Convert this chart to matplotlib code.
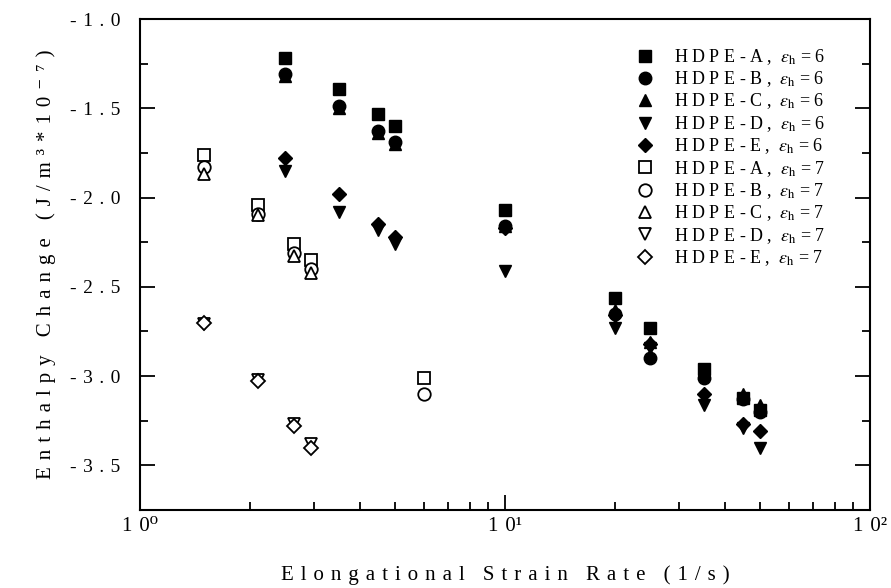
import matplotlib
matplotlib.use("Agg")
import matplotlib.pyplot as plt
from matplotlib.ticker import FixedLocator, NullFormatter, LogLocator

plt.rcParams['font.family'] = ['Liberation Serif', 'DejaVu Serif']
plt.rcParams['mathtext.fontset'] = 'stix'

# eps_h = 6 series (filled)
x6 = [2.5, 3.5, 4.5, 5.0, 10, 20, 25, 35, 45, 50]
A6 = [-1.22, -1.39, -1.53, -1.60, -2.07, -2.56, -2.73, -2.96, -3.12, -3.19]
B6 = [-1.31, -1.49, -1.63, -1.69, -2.16, -2.65, -2.90, -3.01, -3.13, -3.20]
C6 = [-1.32, -1.50, -1.64, -1.70, -2.16, -2.63, -2.81, -2.98, -3.10, -3.16]
D6 = [-1.85, -2.08, -2.18, -2.26, -2.41, -2.73, -2.84, -3.16, -3.29, -3.40]
E6 = [-1.78, -1.98, -2.15, -2.22, -2.17, -2.66, -2.82, -3.10, -3.27, -3.31]

# eps_h = 7 series (open)
x7 = [1.5, 2.1, 2.65, 2.95]
xA7 = [1.5, 2.1, 2.65, 2.95, 6.0]
A7 = [-1.76, -2.04, -2.26, -2.35, -3.01]
B7 = [-1.83, -2.09, -2.31, -2.40, -3.10]
C7 = [-1.87, -2.10, -2.33, -2.42]
D7 = [-2.71, -3.02, -3.27, -3.38]
E7 = [-2.70, -3.03, -3.28, -3.40]

labels = ['A', 'B', 'C', 'D', 'E']
markers = ['s', 'o', '^', 'v', 'D']
msizes = [8.5, 9, 9, 9, 7.5]

SP = '\u2004'
WG = SP * 2 + '\u2009'
def spaced(s):
    return WG.join(SP.join(w) for w in s.split(' '))

ytick_vals = [-1.0, -1.5, -2.0, -2.5, -3.0, -3.5]
ytick_labels = [spaced('%.1f' % v) for v in ytick_vals]
xtick_vals = [1, 10, 100]
xtick_labels = ['1' + SP + '0\u2070', '1' + SP + '0\u00b9', '1' + SP + '0\u00b2']

fig = plt.figure(figsize=(8.91, 5.88), dpi=100)
ax = fig.add_axes([140/891, 1-510/588, 730/891, 491/588])

def lab(letter, eps):
    return 'H D P E - %s ,  $\\varepsilon_{\\rm h}$ = %d' % (letter, eps)

series6 = [A6, B6, C6, D6, E6]
for i, ys in enumerate(series6):
    ax.plot(x6, ys, linestyle='none', marker=markers[i], ms=msizes[i],
            mfc='black', mec='black', label=lab(labels[i], 6))

series7 = [(xA7, A7), (xA7, B7), (x7, C7), (x7, D7), (x7, E7)]
for i, (xs, ys) in enumerate(series7):
    ax.plot(xs, ys, linestyle='none', marker=markers[i], ms=msizes[i],
            mfc='white', mec='black', mew=1.3, label=lab(labels[i], 7))

ax.set_xscale('log')
ax.set_xlim(1, 100)
ax.set_ylim(-3.75, -1.0)

ax.xaxis.set_major_locator(FixedLocator(xtick_vals))
ax.set_xticklabels(xtick_labels)
ax.xaxis.set_minor_locator(LogLocator(base=10, subs=range(2, 10)))
ax.xaxis.set_minor_formatter(NullFormatter())

ax.yaxis.set_major_locator(FixedLocator(ytick_vals))
ax.set_yticklabels(ytick_labels)
ax.yaxis.set_minor_locator(FixedLocator([-1.25, -1.75, -2.25, -2.75, -3.25]))

ax.tick_params(which='both', direction='in', left=True, right=True, bottom=True, top=False,
               labelsize=14, width=1.3)
ax.tick_params(which='major', length=11)
ax.tick_params(which='minor', length=6)
ax.tick_params(axis='y', which='major', pad=14)
ax.tick_params(axis='x', which='major', pad=5, labelsize=15)
for s in ax.spines.values():
    s.set_linewidth(1.5)

ax.set_xlabel(spaced('Elongational Strain Rate (1/s)'), fontsize=15, labelpad=21)
ax.set_ylabel(spaced('Enthalpy Change (J/m\u00b3*10\u207b\u2077)'), fontsize=15, labelpad=10)

leg = ax.legend(loc='upper right', bbox_to_anchor=(0.938, 0.943), frameon=False,
                fontsize=13, handletextpad=0.6, labelspacing=0.14, markerscale=1.0,
                borderaxespad=0.0, borderpad=0.0)

fig.savefig('out.png', dpi=100)
